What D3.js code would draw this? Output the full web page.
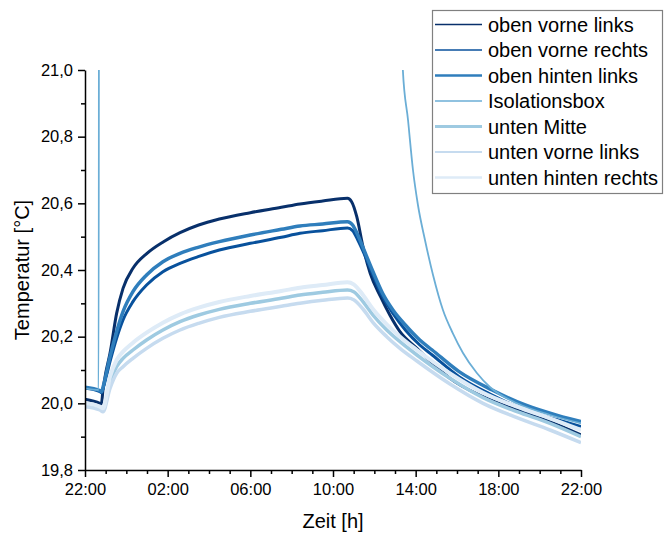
<!DOCTYPE html>
<html>
<head>
<meta charset="utf-8">
<script src="https://cdn.jsdelivr.net/npm/d3@7"></script>
<style>
  html, body { margin: 0; padding: 0; background: #fff; }
  svg { display: block; font-family: "Liberation Sans", Arial, sans-serif; }
</style>
</head>
<body>
<svg id="chart" width="665" height="533"></svg>
<script>
// ---- data (hours since 22:00, temperature °C) ----
const seriesNames = ["oben vorne links", "oben vorne rechts", "oben hinten links", "Isolationsbox",
                     "unten Mitte", "unten vorne links", "unten hinten rechts"];
const seriesColors = ["#08306b", "#08519c", "#2f7ebc", "#6baed6", "#9ecae1", "#c6dbef", "#deebf7"];

const obenVorneLinks = [[0,20.012],[0.72,20.0],[0.79,19.998],[0.87,20.04],[1.0,20.09],[1.21,20.15],[1.53,20.27],[1.84,20.345],
  [2.32,20.405],[3.0,20.45],[3.8,20.485],[4.6,20.512],[5.5,20.535],[6.5,20.553],[8.0,20.572],[9.5,20.588],[10.4,20.598],
  [11.5,20.607],[12.7,20.615],[12.9,20.605],[13.15,20.56],[13.45,20.47],[13.8,20.39],[14.3,20.32],[14.75,20.265],
  [15.24,20.215],[16.06,20.165],[17.0,20.11],[17.66,20.075],[19.26,20.02],[20.9,19.98],[22.5,19.945],[24,19.905]];

const obenVorneRechts = [[0,20.045],[0.72,20.035],[0.8,20.032],[0.9,20.05],[1.21,20.125],[1.53,20.195],[1.84,20.25],
  [2.32,20.305],[2.98,20.355],[3.77,20.395],[4.6,20.42],[5.47,20.44],[6.5,20.46],[8.0,20.48],[9.5,20.498],[10.4,20.51],
  [11.5,20.518],[12.7,20.526],[12.95,20.518],[13.2,20.49],[13.5,20.45],[13.9,20.39],[14.4,20.32],[14.9,20.27],
  [15.5,20.22],[16.2,20.175],[16.8,20.145],[18.1,20.08],[19.7,20.025],[21.3,19.98],[22.9,19.95],[24,19.93]];

const obenHintenLinks = [[0,20.048],[0.72,20.038],[0.8,20.035],[0.9,20.055],[1.21,20.14],[1.53,20.215],[1.84,20.275],
  [2.32,20.335],[2.98,20.385],[3.77,20.425],[4.6,20.45],[5.47,20.468],[6.5,20.485],[8.0,20.505],[9.5,20.522],[10.4,20.532],
  [11.5,20.538],[12.7,20.545],[12.95,20.535],[13.2,20.505],[13.5,20.46],[13.9,20.40],[14.4,20.33],[14.9,20.28],
  [15.5,20.235],[16.2,20.19],[16.8,20.16],[18.1,20.095],[19.7,20.04],[21.3,19.995],[22.9,19.963],[24,19.945]];

const isolationsbox = [[0,20.045],[0.66,20.04],[0.69,22.5],[15.0,22.5],[15.38,21.0],[15.63,20.85],[15.87,20.70],
  [16.11,20.595],[16.45,20.49],[16.84,20.385],[17.32,20.28],[17.8,20.21],[18.29,20.151],[18.96,20.091],
  [19.59,20.049],[20.9,20.0],[22.5,19.965],[24,19.94]];

const untenMitte = [[0,19.995],[0.72,19.985],[0.87,19.98],[1.21,20.065],[1.53,20.11],[1.84,20.135],[2.32,20.16],
  [2.98,20.19],[3.77,20.22],[4.6,20.245],[5.5,20.265],[6.5,20.282],[8.0,20.3],[9.5,20.315],[10.4,20.325],
  [11.5,20.333],[12.7,20.34],[13.0,20.335],[13.45,20.305],[13.93,20.265],[14.6,20.22],[15.24,20.185],
  [16.06,20.145],[17.66,20.075],[19.26,20.017],[20.9,19.975],[22.5,19.94],[24,19.9]];

const untenVorneLinks = [[0,19.99],[0.72,19.98],[0.87,19.975],[1.21,20.045],[1.53,20.09],[1.84,20.11],[2.32,20.135],
  [2.98,20.165],[3.77,20.195],[4.6,20.22],[5.5,20.24],[6.5,20.258],[8.0,20.276],[9.5,20.291],[10.4,20.3],
  [11.5,20.309],[12.7,20.316],[13.0,20.311],[13.45,20.283],[13.93,20.243],[14.6,20.2],[15.24,20.165],
  [16.06,20.127],[17.66,20.058],[19.26,20.0],[20.9,19.957],[22.5,19.92],[24,19.882]];

const untenHintenRechts = [[0,20.0],[0.72,19.99],[0.87,19.985],[1.21,20.08],[1.53,20.13],[1.84,20.155],[2.32,20.182],
  [2.98,20.212],[3.77,20.242],[4.6,20.267],[5.5,20.287],[6.5,20.304],[8.0,20.322],[9.5,20.337],[10.4,20.347],
  [11.5,20.355],[12.7,20.363],[13.0,20.357],[13.45,20.325],[13.93,20.283],[14.6,20.237],[15.24,20.2],
  [16.06,20.16],[17.66,20.09],[19.26,20.032],[20.9,19.99],[22.5,19.955],[24,19.92]];

const allSeries = [obenVorneLinks, obenVorneRechts, obenHintenLinks, isolationsbox, untenMitte, untenVorneLinks, untenHintenRechts];
const plotWidths = [3, 3, 3.5, 1.8, 3.5, 3.5, 4];
const legendWidths = [1.5, 1.5, 2.5, 1.5, 3, 2, 2.5];

const xTickValues = [0, 4, 8, 12, 16, 20, 24];
const xTickLabels = ["22:00", "02:00", "06:00", "10:00", "14:00", "18:00", "22:00"];
const yTickValues = [19.8, 20.0, 20.2, 20.4, 20.6, 20.8, 21.0];
const yTickLabels = ["19,8", "20,0", "20,2", "20,4", "20,6", "20,8", "21,0"];
const xMinorTicks = d3.range(0, 25, 1);
const yMinorTicks = [19.9, 20.1, 20.3, 20.5, 20.7, 20.9];

// ---- layout ----
const svg = d3.select("#chart");
const mLeft = 85, mRight = 581, mTop = 70, mBottom = 470;
const x = d3.scaleLinear().domain([0, 24]).range([mLeft, mRight]);
const y = d3.scaleLinear().domain([19.8, 21.0]).range([mBottom, mTop]);

svg.append("clipPath").attr("id", "plotClip")
  .append("rect").attr("x", mLeft).attr("y", mTop).attr("width", mRight - mLeft).attr("height", mBottom - mTop);

const line = d3.line().x(d => x(d[0])).y(d => y(d[1])).curve(d3.curveMonotoneX);

const plot = svg.append("g").attr("clip-path", "url(#plotClip)");
allSeries.forEach((s, i) => {
  plot.append("path").datum(s)
    .attr("fill", "none")
    .attr("stroke", seriesColors[i])
    .attr("stroke-width", plotWidths[i])
    .attr("stroke-linejoin", "round")
    .attr("d", line);
});

// ---- axes ----
const tickFont = "16.5px";
const xAxis = svg.append("g").attr("transform", `translate(0,${mBottom})`)
  .call(d3.axisBottom(x).tickValues(xTickValues).tickFormat((d, i) => xTickLabels[i]).tickSize(7).tickSizeOuter(0).tickPadding(6));
const xMinor = svg.append("g").attr("transform", `translate(0,${mBottom})`)
  .call(d3.axisBottom(x).tickValues(xMinorTicks.filter(h => h % 4 !== 0)).tickFormat("").tickSize(4).tickSizeOuter(0));
const yAxis = svg.append("g").attr("transform", `translate(${mLeft},0)`)
  .call(d3.axisLeft(y).tickValues(yTickValues).tickFormat((d, i) => yTickLabels[i]).tickSize(7).tickSizeOuter(0).tickPadding(5));
const yMinor = svg.append("g").attr("transform", `translate(${mLeft},0)`)
  .call(d3.axisLeft(y).tickValues(yMinorTicks).tickFormat("").tickSize(4).tickSizeOuter(0));

[xAxis, xMinor, yAxis, yMinor].forEach(g => {
  g.selectAll("path.domain").attr("stroke", "#000").attr("stroke-width", 1.5);
  g.selectAll(".tick line").attr("stroke", "#000").attr("stroke-width", 1.5);
  g.selectAll(".tick text").attr("fill", "#000").style("font-size", tickFont)
    .style("font-family", '"Liberation Sans", Arial, sans-serif');
});
xMinor.select("path.domain").remove();
yMinor.select("path.domain").remove();

// axis titles
svg.append("text").attr("x", (mLeft + mRight) / 2).attr("y", 528)
  .attr("text-anchor", "middle").style("font-size", "20px").attr("fill", "#000").text("Zeit [h]");
svg.append("text").attr("transform", `translate(29,${(mTop + mBottom) / 2}) rotate(-90)`)
  .attr("text-anchor", "middle").style("font-size", "20px").attr("fill", "#000").text("Temperatur [°C]");

// ---- legend ----
const lg = svg.append("g");
lg.append("rect").attr("x", 432.5).attr("y", 10.5).attr("width", 230).attr("height", 183)
  .attr("fill", "#fff").attr("stroke", "#808080").attr("stroke-width", 1.2);
seriesNames.forEach((name, i) => {
  const yy = 24.5 + i * 25.5;
  lg.append("line").attr("x1", 435).attr("x2", 482).attr("y1", yy).attr("y2", yy)
    .attr("stroke", seriesColors[i]).attr("stroke-width", legendWidths[i]);
  lg.append("text").attr("x", 488).attr("y", yy).attr("dy", "0.36em")
    .style("font-size", "20px").attr("fill", "#000").text(name);
});
</script>
</body>
</html>
